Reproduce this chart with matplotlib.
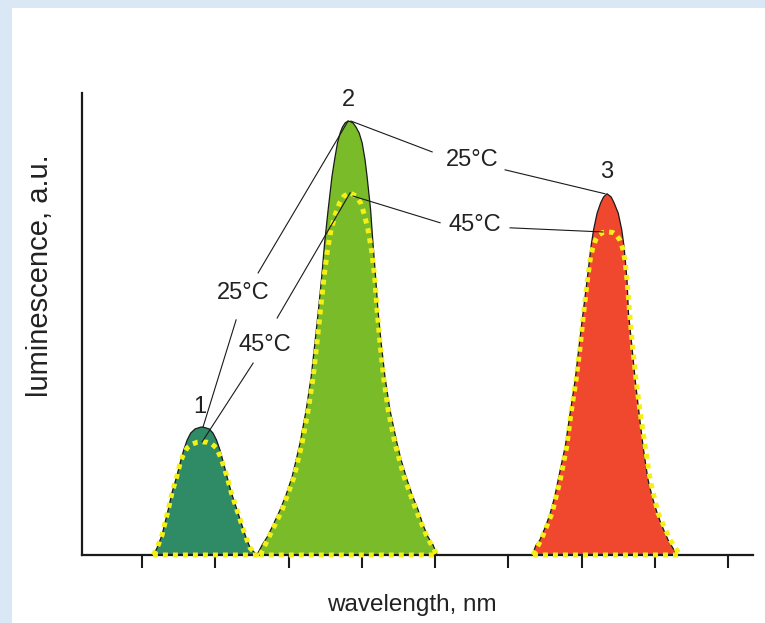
import matplotlib
matplotlib.use("Agg")
import matplotlib.pyplot as plt
from matplotlib.patches import Rectangle

plt.rcParams['font.family'] = ['Liberation Sans', 'DejaVu Sans']

# band 1 (blue-green)
wl1_25 = [453.8, 455.1, 456.8, 458.9, 460.2, 461.8, 463.0, 464.2, 465.4, 466.6, 468.1, 470.1,
          470.8, 472.9, 474.2, 475.4, 476.6, 477.8, 479.0, 480.5, 482.4, 485.2, 486.9, 489.2]
lum1_25 = [0, 1.5, 4.3, 9.8, 13.5, 17.0, 20.0, 22.8, 25.0, 26.5, 27.4, 27.8,
           27.8, 27.4, 26.5, 25.0, 22.8, 20.0, 17.0, 13.5, 9.8, 4.3, 1.5, 0]
wl1_45 = [453.8, 455.1, 456.8, 458.9, 460.2, 461.8, 463.0, 464.0, 465.4, 467.1, 468.8, 470.5,
          472.2, 473.9, 475.3, 476.5, 477.5, 479.0, 480.5, 482.4, 485.2, 486.9, 489.2]
lum1_45 = [0, 1.5, 4.3, 9.8, 13.5, 17.0, 20.0, 21.7, 23.3, 24.1, 24.5, 24.6,
           24.5, 24.1, 23.3, 21.7, 20.0, 17.0, 13.5, 9.8, 4.3, 1.5, 0]

# band 2 (green)
wl2_25 = [489.2, 491.0, 492.7, 494.7, 497.1, 499.1, 501.2, 502.6, 503.9, 506.0, 507.7, 509.0,
          510.2, 511.3, 512.3, 513.5, 514.8, 515.7, 516.7, 517.6, 518.4, 519.3, 520.3,
          521.0, 522.0, 523.0, 524.1, 525.1, 526.1, 526.8, 528.0, 528.8, 529.7, 530.5, 531.6,
          532.9, 534.6, 537.0, 538.4, 540.1, 542.2, 544.2, 545.9, 547.6, 549.3, 550.7]
lum2_25 = [0, 2.2, 3.9, 6.5, 9.8, 13.0, 17.0, 20.7, 24.3, 31.5, 38.7, 46.1,
           53.3, 60.4, 67.8, 75.0, 82.2, 85.9, 89.6, 91.7, 93.0, 93.9, 94.3,
           94.2, 93.9, 93.0, 91.7, 89.6, 85.9, 82.2, 75.0, 67.8, 60.4, 53.3, 46.1,
           38.7, 31.5, 24.3, 20.7, 17.0, 13.0, 9.8, 6.5, 3.9, 2.2, 0]
wl2_45 = [490.3, 493.3, 497.8, 501.9, 504.6, 506.7, 508.4, 509.7, 510.9, 512.1, 513.3, 514.5,
          515.9, 517.4, 518.9, 521.0, 523.0, 524.6, 525.9, 527.1, 528.3, 529.4, 530.2, 531.2,
          532.4, 534.0, 536.3, 539.4, 543.5, 547.3, 550.7]
lum2_45 = [0, 3.9, 9.8, 17.0, 24.3, 31.5, 38.7, 46.1, 53.3, 60.4, 66.3, 70.7,
           73.9, 76.5, 78.0, 78.7, 78.0, 76.5, 73.9, 70.7, 66.3, 60.4, 53.3, 46.1,
           38.7, 31.5, 24.3, 17.0, 9.8, 3.9, 0]

# band 3 (red)
wl3_25 = [583.1, 584.5, 585.8, 587.9, 589.3, 590.8, 592.0, 593.2, 594.4, 596.1, 597.8, 599.1,
          600.5, 601.9, 603.2, 604.1, 605.3, 606.5, 607.5, 608.7,
          610.1, 611.1, 612.5, 613.7, 614.5, 615.5, 616.0, 617.2, 618.3, 619.6, 621.0, 621.8,
          622.7, 624.1, 625.8, 627.3, 629.5, 630.5, 632.6]
lum3_25 = [0, 2.2, 3.3, 6.5, 9.1, 12.6, 16.3, 20.0, 23.5, 30.9, 38.0, 45.2,
           52.6, 59.8, 67.0, 70.7, 74.3, 76.5, 77.8, 78.5,
           77.8, 76.5, 74.3, 70.7, 67.0, 59.8, 52.6, 45.2, 38.0, 30.9, 23.5, 20.0,
           16.3, 12.6, 9.1, 6.5, 3.3, 2.2, 0]
wl3_45 = [583.4, 586.2, 589.9, 592.7, 594.9, 596.4, 598.1, 599.5, 600.7, 602.0, 602.9, 603.8,
          604.8, 606.0, 607.3, 609.0, 610.6, 611.8, 613.0, 614.0, 614.8, 615.5, 616.4, 617.4,
          618.6, 620.0, 621.7, 623.4, 626.1, 630.2, 633.6]
lum3_45 = [0, 3.3, 9.1, 16.3, 23.5, 30.9, 38.0, 45.2, 52.6, 59.8, 64.1, 66.7,
           68.5, 69.6, 70.1, 70.2, 70.1, 69.6, 68.5, 66.7, 64.1, 59.8, 52.6, 45.2,
           38.0, 30.9, 23.5, 16.3, 9.1, 3.3, 0]

xticks = [450, 475, 500, 525, 550, 575, 600, 625, 650]

fig = plt.figure(figsize=(7.65, 6.23), dpi=100)
fig.patch.set_facecolor('#dae7f5')
fig.add_artist(Rectangle((12 / 765, 0), 1, 1 - 8 / 623, transform=fig.transFigure,
                         facecolor='white', edgecolor='none', zorder=0))

ax = fig.add_axes([82 / 765, 1 - 555 / 623, (753 - 82) / 765, (555 - 93) / 623])
ax.set_facecolor('white')

bands = [(wl1_25, lum1_25, wl1_45, lum1_45, '#2f8a66'),
         (wl2_25, lum2_25, wl2_45, lum2_45, '#79bb29'),
         (wl3_25, lum3_25, wl3_45, lum3_45, '#f0482e')]
for w25, l25, w45, l45, col in bands:
    ax.fill(w25, l25, color=col, zorder=2, lw=0)
    ax.plot(w25, l25, color='#1a1a1a', lw=0.9, zorder=3, solid_joinstyle='round')
    ax.plot(w45 + [w45[0]], l45 + [l45[0]], color='#f4f016', lw=3.6,
            linestyle=(0, (1, 1.0)), zorder=4, clip_on=False)

ax.set_xlim(429.5, 658.5)
ax.set_ylim(0, 100.4)
ax.set_xticks(xticks)
ax.set_xticklabels([])
ax.set_yticks([])
for s in ['top', 'right']:
    ax.spines[s].set_visible(False)
for s in ['left', 'bottom']:
    ax.spines[s].set_linewidth(1.6)
    ax.spines[s].set_color('#1a1a1a')
ax.tick_params(axis='x', direction='out', length=9, width=1.5, color='#1a1a1a')

fig.text(412 / 765, 1 - 605 / 623, 'wavelength, nm', fontsize=17.5, color='#222222',
         ha='center', va='center')
fig.text(40 / 765, 1 - 276 / 623, 'luminescence, a.u.', fontsize=21, color='#222222',
         ha='center', va='center', rotation=90)

# peak numbers and temperatures
txt = dict(fontsize=17, color='#222222', ha='center', va='center')
ax.text(469.8, 32.2, '1', **txt)
ax.text(520.3, 98.9, '2', **txt)
ax.text(608.7, 83.3, '3', **txt)
ax.text(484.5, 57.0, '25°C', **txt)
ax.text(492.0, 45.7, '45°C', **txt)
ax.text(562.5, 85.9, '25°C', **txt)
ax.text(563.7, 71.7, '45°C', **txt)

# leader lines
lk = dict(color='#1a1a1a', lw=0.8, zorder=5, clip_on=False)
ax.plot([520.3, 489.6], [94.3, 61.3], **lk)
ax.plot([482.1, 470.8], [51.1, 27.8], **lk)
ax.plot([521.0, 496.1], [78.7, 51.5], **lk)
ax.plot([487.9, 470.5], [41.7, 24.6], **lk)
ax.plot([521.3, 549.0], [94.3, 87.6], **lk)
ax.plot([573.9, 608.0], [83.7, 78.5], **lk)
ax.plot([522.0, 551.7], [78.0, 72.2], **lk)
ax.plot([575.6, 607.3], [71.1, 70.2], **lk)

fig.savefig('out.png', dpi=100, facecolor=fig.get_facecolor())
